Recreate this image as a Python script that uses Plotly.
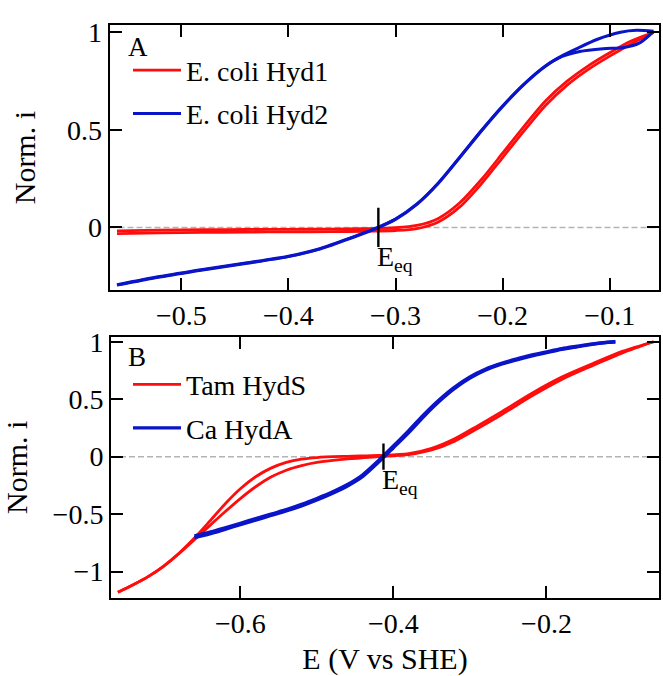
import plotly.graph_objects as go

# ---------------- Panel A: E. coli Hyd1 / Hyd2 ----------------
E_HYD1_FWD = [-0.560, -0.520, -0.480, -0.440, -0.400, -0.360, -0.330, -0.300, -0.280, -0.260,
              -0.240, -0.220, -0.200, -0.180, -0.160, -0.140, -0.120, -0.100, -0.080, -0.059]
I_HYD1_FWD = [-0.032, -0.028, -0.026, -0.024, -0.023, -0.022, -0.020, -0.016, -0.006, 0.028,
              0.105, 0.222, 0.358, 0.495, 0.625, 0.728, 0.810, 0.878, 0.940, 1.000]
E_HYD1_REV = [-0.059, -0.080, -0.100, -0.120, -0.140, -0.160, -0.180, -0.200, -0.220, -0.240,
              -0.260, -0.280, -0.300, -0.330, -0.360, -0.400, -0.440, -0.480, -0.520, -0.560]
I_HYD1_REV = [1.000, 0.955, 0.895, 0.828, 0.748, 0.648, 0.518, 0.380, 0.244, 0.126,
              0.046, 0.010, -0.002, -0.007, -0.009, -0.010, -0.011, -0.012, -0.014, -0.018]

E_HYD2_FWD = [-0.560, -0.520, -0.480, -0.440, -0.400, -0.370, -0.340, -0.320, -0.300, -0.280,
              -0.260, -0.240, -0.220, -0.200, -0.180, -0.160, -0.145, -0.130, -0.112, -0.090,
              -0.075, -0.059]
I_HYD2_FWD = [-0.294, -0.252, -0.216, -0.183, -0.148, -0.108, -0.050, -0.008, 0.043, 0.120,
              0.228, 0.360, 0.495, 0.622, 0.735, 0.828, 0.878, 0.918, 0.963, 1.000,
              1.010, 1.005]
E_HYD2_REV = [-0.059, -0.072, -0.087, -0.106, -0.128, -0.145, -0.160, -0.180, -0.200, -0.220,
              -0.240, -0.260, -0.280, -0.300, -0.320, -0.340, -0.370, -0.400, -0.440, -0.480,
              -0.520, -0.560]
I_HYD2_REV = [1.005, 0.946, 0.922, 0.916, 0.902, 0.875, 0.826, 0.733, 0.620, 0.493,
              0.358, 0.226, 0.118, 0.041, -0.010, -0.052, -0.110, -0.150, -0.185, -0.218,
              -0.254, -0.296]

E_EQ_A = -0.316

# ---------------- Panel B: Tam HydS / Ca HydA ----------------
E_TAM = [-0.760, -0.740, -0.720, -0.700, -0.680, -0.660, -0.640, -0.620, -0.600, -0.580,
         -0.560, -0.540, -0.520, -0.500, -0.460, -0.420, -0.380, -0.350, -0.320, -0.290,
         -0.260, -0.220, -0.180, -0.140, -0.100, -0.060]
I_TAM_FWD = [-1.180, -1.115, -1.042, -0.952, -0.842, -0.722, -0.600, -0.480, -0.365, -0.262,
             -0.178, -0.118, -0.078, -0.050, -0.020, 0.000, 0.018, 0.058, 0.135, 0.245,
             0.360, 0.525, 0.672, 0.792, 0.905, 1.000]
I_TAM_REV = [-1.180, -1.115, -1.042, -0.952, -0.840, -0.708, -0.562, -0.412, -0.280, -0.175,
             -0.100, -0.050, -0.022, -0.008, 0.003, 0.011, 0.026, 0.072, 0.155, 0.268,
             0.385, 0.548, 0.692, 0.808, 0.918, 1.000]

E_CA = [-0.660, -0.640, -0.620, -0.600, -0.580, -0.560, -0.540, -0.520, -0.500, -0.480,
        -0.460, -0.440, -0.420, -0.400, -0.380, -0.360, -0.340, -0.320, -0.300, -0.280,
        -0.260, -0.240, -0.220, -0.200, -0.180, -0.160, -0.140, -0.120, -0.110]
I_CA_FWD = [-0.705, -0.672, -0.632, -0.592, -0.552, -0.512, -0.473, -0.428, -0.377, -0.320,
            -0.255, -0.172, -0.052, 0.078, 0.210, 0.352, 0.482, 0.594, 0.684, 0.752,
            0.802, 0.840, 0.875, 0.905, 0.934, 0.956, 0.977, 0.994, 1.000]
I_CA_REV = [-0.690, -0.658, -0.620, -0.580, -0.540, -0.500, -0.462, -0.416, -0.364, -0.308,
            -0.243, -0.158, -0.038, 0.092, 0.226, 0.368, 0.496, 0.606, 0.694, 0.760,
            0.809, 0.848, 0.883, 0.912, 0.940, 0.961, 0.981, 0.996, 1.000]

E_EQ_B = -0.413

TICKS_XA = [-0.5, -0.4, -0.3, -0.2, -0.1]
TICKS_YA = [0, 0.5, 1]
TICKS_XB = [-0.6, -0.4, -0.2]
TICKS_YB = [-1, -0.5, 0, 0.5, 1]

RED = "#ff0d0d"
BLUE = "#0a14c8"
FONT = "Liberation Serif"
W, H = 663, 676

fig = go.Figure()


def add_cv(x1, y1, x2, y2, name, color, width, xa, ya, legend):
    grp = name
    fig.add_trace(go.Scatter(x=x1, y=y1, mode="lines", name=name, legendgroup=grp,
                             line=dict(color=color, width=width, shape="spline", smoothing=0.8),
                             xaxis=xa, yaxis=ya, legend=legend))
    fig.add_trace(go.Scatter(x=x2, y=y2, mode="lines", name=name, legendgroup=grp,
                             showlegend=False,
                             line=dict(color=color, width=width, shape="spline", smoothing=0.8),
                             xaxis=xa, yaxis=ya, legend=legend))


# reference zero lines
for xa, ya in (("x", "y"), ("x2", "y2")):
    fig.add_shape(type="line", xref=f"{xa} domain", yref=ya, x0=0, x1=1, y0=0, y1=0,
                  line=dict(color="#b4b4b4", width=1.5, dash="6px,3px"), layer="below")

add_cv(E_HYD1_FWD, I_HYD1_FWD, E_HYD1_REV, I_HYD1_REV, "E. coli Hyd1", RED, 2.8, "x", "y", "legend")
add_cv(E_HYD2_FWD, I_HYD2_FWD, E_HYD2_REV, I_HYD2_REV, "E. coli Hyd2", BLUE, 3.0, "x", "y", "legend")
add_cv(E_TAM, I_TAM_FWD, E_TAM[::-1], I_TAM_REV[::-1], "Tam HydS", RED, 2.8, "x2", "y2", "legend2")
add_cv(E_CA, I_CA_FWD, E_CA[::-1], I_CA_REV[::-1], "Ca HydA", BLUE, 3.4, "x2", "y2", "legend2")

# equilibrium potential markers
for e, half, xa, ya in ((E_EQ_A, 0.1, "x", "y"), (E_EQ_B, 0.114, "x2", "y2")):
    fig.add_trace(go.Scatter(x=[e, e], y=[-half, half], mode="lines", showlegend=False,
                             line=dict(color="black", width=2.4), xaxis=xa, yaxis=ya,
                             hoverinfo="skip"))
    fig.add_annotation(x=e, y=-half, xref=xa, yref=ya, text="E<sub>eq</sub>",
                       showarrow=False, xanchor="left", yanchor="top", xshift=-3, yshift=8,
                       font=dict(family=FONT, size=28, color="black"))

axis_common = dict(showline=True, linecolor="black", linewidth=2, mirror="ticks",
                   ticks="inside", ticklen=12, tickwidth=2, tickcolor="black",
                   showgrid=False, zeroline=False,
                   tickfont=dict(family=FONT, size=28, color="black"))

fig.update_layout(
    width=W, height=H,
    margin=dict(l=0, r=0, t=0, b=0),
    paper_bgcolor="white", plot_bgcolor="white",
    font=dict(family=FONT, color="black"),
    xaxis=dict(domain=[109.5 / W, 659 / W], anchor="y", range=[-0.567, -0.054],
               tickvals=TICKS_XA, **axis_common),
    yaxis=dict(domain=[(H - 284) / H, (H - 15.7) / H], anchor="x", range=[-0.32, 1.035],
               tickvals=TICKS_YA,
               title=dict(text="Norm. i", font=dict(family=FONT, size=30), standoff=22),
               **axis_common),
    xaxis2=dict(domain=[111 / W, 659 / W], anchor="y2", range=[-0.769, -0.053],
                tickvals=TICKS_XB,
                title=dict(text="E (V vs SHE)", font=dict(family=FONT, size=30), standoff=14),
                **axis_common),
    yaxis2=dict(domain=[(H - 596.7) / H, (H - 331.7) / H], anchor="x2", range=[-1.229, 1.043],
                tickvals=TICKS_YB,
                title=dict(text="Norm. i", font=dict(family=FONT, size=30), standoff=22),
                **axis_common),
    legend=dict(x=128 / W, y=1 - 36 / H, xanchor="left", yanchor="top",
                bgcolor="rgba(0,0,0,0)", font=dict(family=FONT, size=28, color="black"),
                traceorder="grouped", tracegroupgap=4, itemwidth=48),
    legend2=dict(x=128 / W, y=1 - 355 / H, xanchor="left", yanchor="top",
                 bgcolor="rgba(0,0,0,0)", font=dict(family=FONT, size=28, color="black"),
                 traceorder="grouped", tracegroupgap=4, itemwidth=48),
    showlegend=True,
)

fig.add_annotation(x=126 / W, y=1 - 38 / H, xref="paper", yref="paper", text="A",
                   showarrow=False, xanchor="left", yanchor="middle",
                   font=dict(family=FONT, size=27, color="black"))
fig.add_annotation(x=126 / W, y=1 - 352 / H, xref="paper", yref="paper", text="B",
                   showarrow=False, xanchor="left", yanchor="middle",
                   font=dict(family=FONT, size=27, color="black"))

fig.write_html("out.html")
